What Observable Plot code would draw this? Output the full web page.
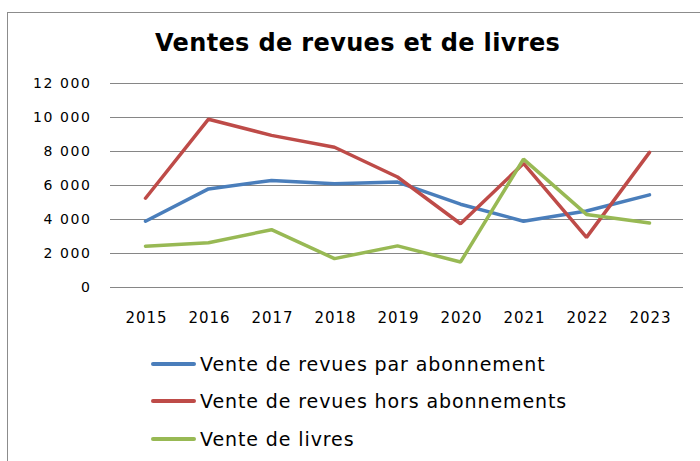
<!DOCTYPE html>
<html><head><meta charset="utf-8">
<script src="https://cdn.jsdelivr.net/npm/d3@7"></script>
<script src="https://cdn.jsdelivr.net/npm/@observablehq/plot@0.6"></script>
<style>
body{margin:0;background:#fff;font-family:"DejaVu Sans",sans-serif;}
#wrap{position:relative;width:700px;height:461px;overflow:hidden;}
#frame{position:absolute;left:7px;top:12px;width:720px;height:500px;border:1px solid #8c8c8c;box-sizing:border-box;}
#title{position:absolute;left:155px;top:28px;white-space:nowrap;font-size:24px;line-height:30px;font-weight:bold;color:#000;letter-spacing:0.35px;}
.leg{position:absolute;left:151px;height:22px;line-height:22px;font-size:19px;color:#000;white-space:nowrap;}
.leg span.sw{position:absolute;left:0;top:9px;width:45px;height:4px;border-radius:2px;}
.leg span.tx{position:absolute;left:49px;top:0;letter-spacing:0.9px;}
#chart{position:absolute;left:0;top:0;}
g[aria-label="y-axis tick label"] text{letter-spacing:1.6px;}
g[aria-label="x-axis tick label"] text{letter-spacing:1px;}
</style></head>
<body><div id="wrap"><div id="frame"></div><div id="chart"></div><div id="title">Ventes de revues et de livres</div><div id="legend"></div></div>
<script>
const years = ["2015","2016","2017","2018","2019","2020","2021","2022","2023"];
const seriesNames = ["Vente de revues par abonnement","Vente de revues hors abonnements","Vente de livres"];
const abonnement = [3900,5800,6300,6100,6200,4900,3900,4500,5450];
const horsAbonnement = [5250,9900,8950,8250,6500,3750,7300,2950,7950];
const livres = [2430,2630,3400,1700,2450,1500,7550,4300,3800];
const yTicks = [0,2000,4000,6000,8000,10000,12000];
const colors = ["#4a7ebb","#be4b48","#98b954"];

const values = [abonnement, horsAbonnement, livres];
const data = [];
seriesNames.forEach((s,i)=>years.forEach((y,j)=>data.push({series:s, year:y, value:values[i][j]})));

const fmt = d => d3.format(",")(d).replace(",", " ");

const chart = Plot.plot({
  width:700, height:461,
  marginTop:83, marginBottom:174, marginLeft:110, marginRight:17,
  style:{fontFamily:"'DejaVu Sans', sans-serif", fontSize:"14px", color:"#000", background:"transparent"},
  x:{type:"point", domain:years, padding:0.5, label:null},
  y:{domain:[0,12000], label:null},
  color:{domain:seriesNames, range:colors},
  marks:[
    Plot.gridY(yTicks, {stroke:"#868686", strokeOpacity:1, strokeWidth:1.2}),
    Plot.axisY(yTicks, {tickSize:0, tickPadding:19, tickFormat:fmt, fontSize:14, label:null}),
    Plot.axisX({tickSize:0, tickPadding:25, fontSize:15, label:null, dx:1}),
    Plot.line(data, {x:"year", y:"value", z:"series", stroke:"series", strokeWidth:3.5, strokeLinejoin:"miter"})
  ]
});
document.getElementById("chart").appendChild(chart);

const leg = document.getElementById("legend");
const legY = [364, 401, 439];
seriesNames.forEach((s,i)=>{
  const d = document.createElement("div");
  d.className="leg";
  d.style.top = (legY[i] - 11) + "px";
  d.innerHTML = `<span class="sw" style="background:${colors[i]}"></span><span class="tx">${s}</span>`;
  leg.appendChild(d);
});
</script></body></html>
